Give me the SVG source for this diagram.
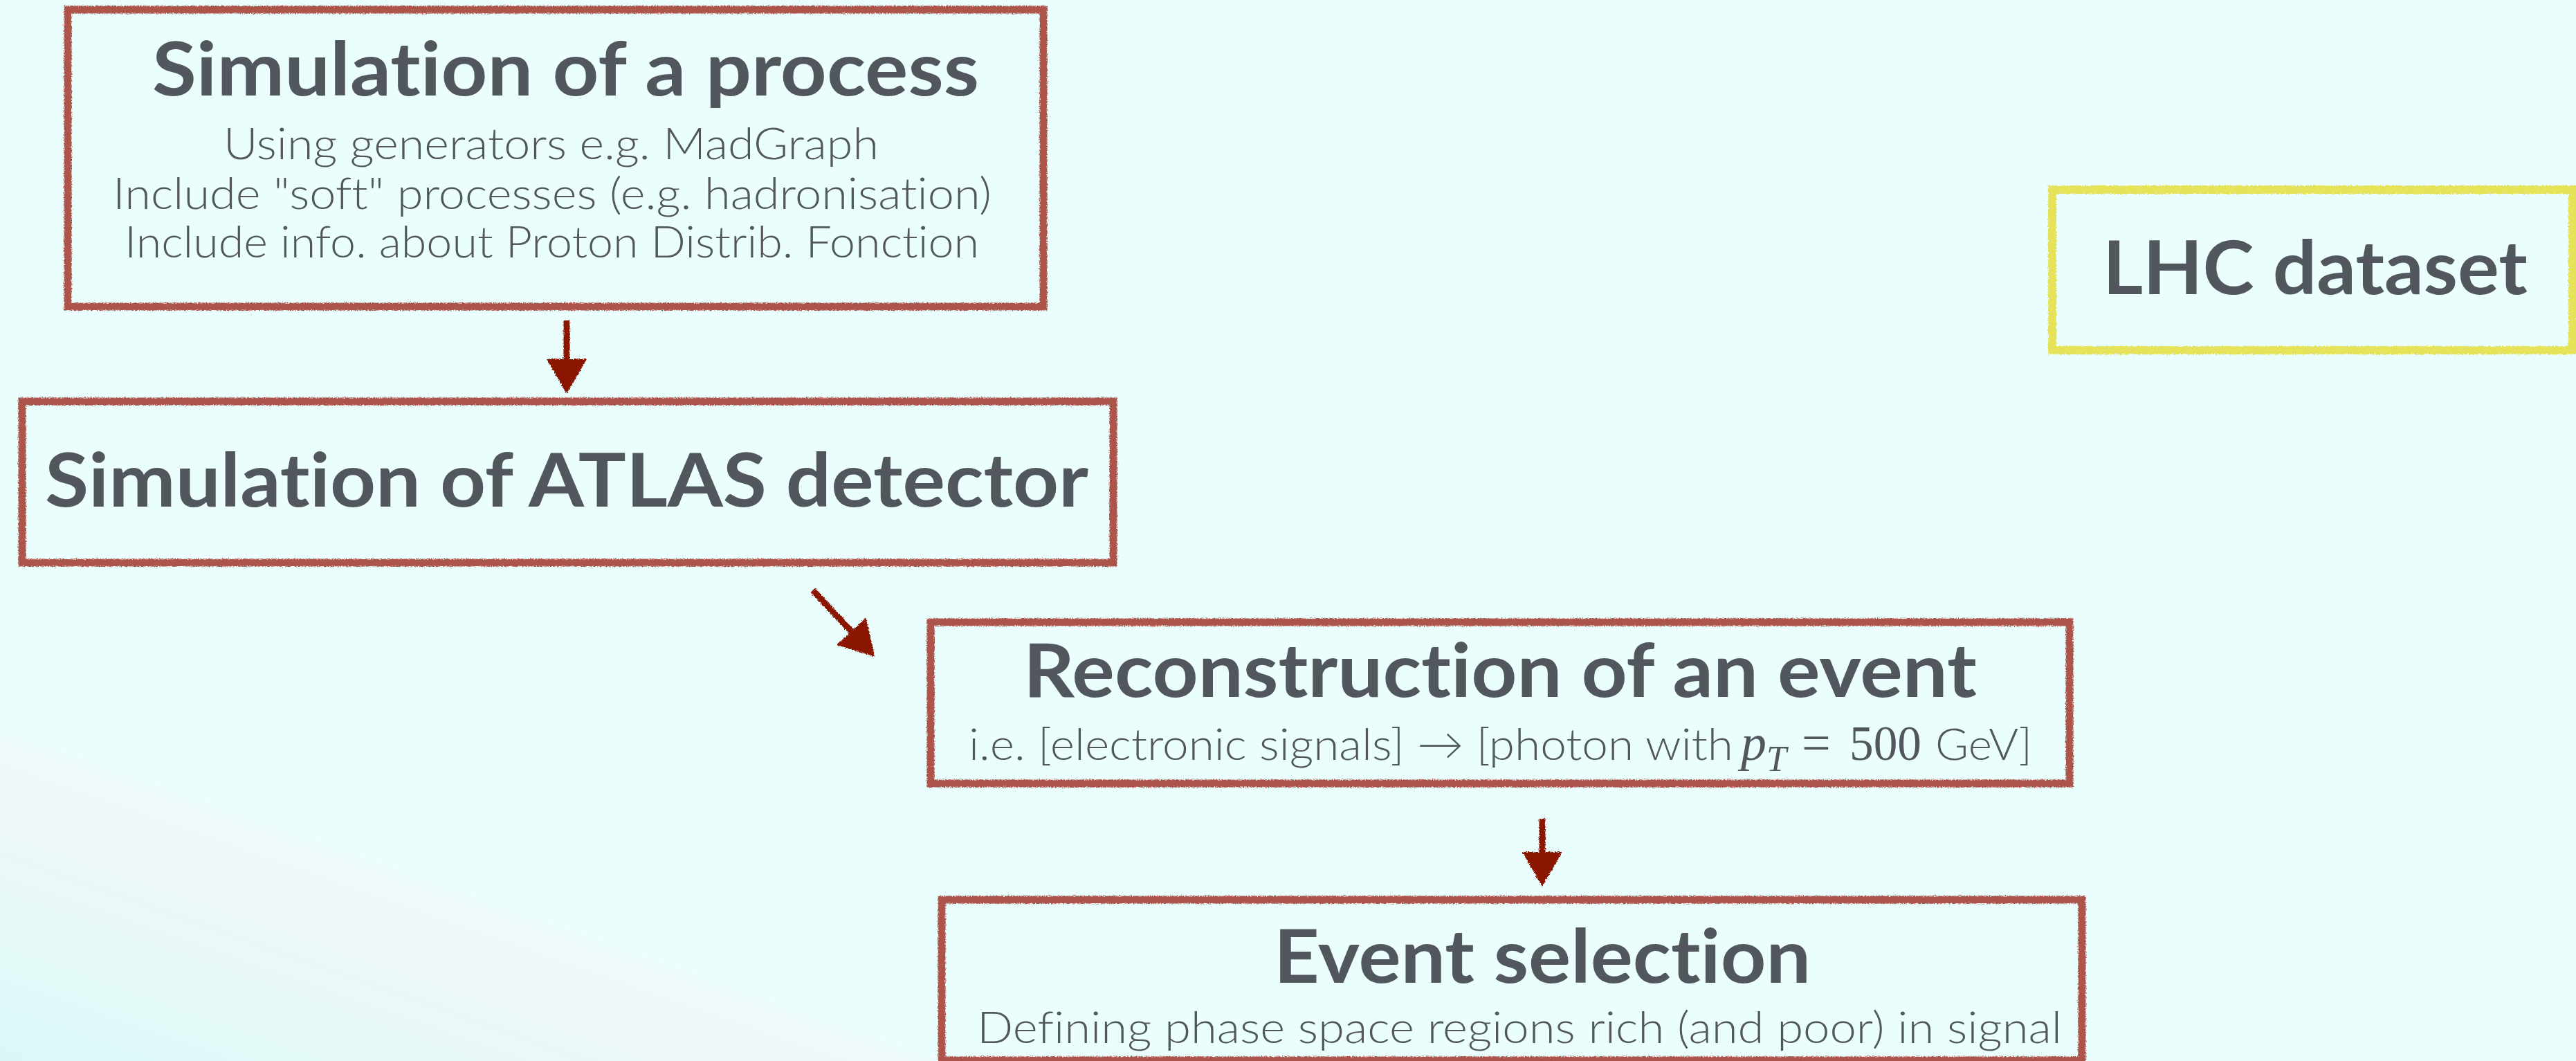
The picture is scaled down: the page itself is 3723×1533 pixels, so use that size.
<svg xmlns="http://www.w3.org/2000/svg" width="3723" height="1533" viewBox="0 0 3723 1533">
<style>
.box{fill:none;stroke:#AD554B;stroke-width:11;filter:url(#rough)}
.boxy{fill:none;stroke:#E6E25A;stroke-width:12;filter:url(#rough)}
.title{font-family:Lato,"Open Sans","Liberation Sans",sans-serif;font-weight:700;font-size:108px;fill:#52575D;font-variant-ligatures:none}
.sub{font-family:Lato,"Open Sans","Liberation Sans",sans-serif;font-weight:300;font-size:64px;fill:#52575D;font-variant-ligatures:none}
.math{font-family:"Liberation Serif","DejaVu Serif",serif;fill:#52575D}
.conn{stroke:#8A1300;stroke-width:9;fill:none;marker-end:url(#head);filter:url(#rough)}
</style>
<defs>
<linearGradient id="bg" gradientUnits="userSpaceOnUse" x1="0" y1="1533" x2="199" y2="967">
<stop offset="0" stop-color="#DAF8F9"/>
<stop offset="0.35" stop-color="#E6F9F7"/>
<stop offset="0.6" stop-color="#EFF6FA"/>
<stop offset="0.72" stop-color="#EFF9FC"/>
<stop offset="0.76" stop-color="#EBFEFE"/>
<stop offset="1" stop-color="#EBFEFE"/>
</linearGradient>
<filter id="rough" filterUnits="userSpaceOnUse" x="0" y="0" width="3723" height="1533">
<feTurbulence type="fractalNoise" baseFrequency="0.6" numOctaves="2" seed="3" result="n"/>
<feDisplacementMap in="SourceGraphic" in2="n" scale="5" xChannelSelector="R" yChannelSelector="G"/>
</filter>
<marker id="head" markerUnits="userSpaceOnUse" viewBox="0 -29 50 58" refX="1" refY="0" markerWidth="50" markerHeight="58" orient="auto">
<path d="M0,-29 L50,0 L0,29 z" fill="#8A1300"/>
</marker>
</defs>
<rect width="3723" height="1533" fill="url(#bg)"/>

<g id="sim-process">
<rect class="box" x="98" y="14" width="1410" height="429"/>
<text class="title" x="220" y="138" textLength="1195" lengthAdjust="spacingAndGlyphs">Simulation of a process</text>
<text class="sub" x="323" y="230" textLength="947" lengthAdjust="spacingAndGlyphs">Using generators e.g. MadGraph</text>
<text class="sub" x="163" y="302" textLength="1270" lengthAdjust="spacingAndGlyphs">Include "soft" processes (e.g. hadronisation)</text>
<text class="sub" x="180" y="372" textLength="1235" lengthAdjust="spacingAndGlyphs">Include info. about Proton Distrib. Fonction</text>
</g>

<g id="sim-atlas">
<rect class="box" x="32" y="580" width="1577" height="233"/>
<text class="title" x="65" y="732" textLength="1508" lengthAdjust="spacingAndGlyphs">Simulation of ATLAS detector</text>
</g>

<g id="reconstruction">
<rect class="box" x="1345" y="899" width="1646" height="233"/>
<text class="title" x="1479" y="1007" textLength="1378" lengthAdjust="spacingAndGlyphs">Reconstruction of an event</text>
<text class="sub" x="1400" y="1098" textLength="1105" lengthAdjust="spacingAndGlyphs">i.e. [electronic signals] → [photon with</text>
<text class="math" x="2516" y="1098" font-size="74" font-style="italic">p</text>
<text class="math" x="2553" y="1114" font-size="52" font-style="italic">T</text>
<text class="math" x="2604" y="1098" font-size="74">=</text>
<text class="math" x="2673" y="1098" font-size="72" textLength="104" lengthAdjust="spacingAndGlyphs">500</text>
<text class="sub" x="2797" y="1098" textLength="140" lengthAdjust="spacingAndGlyphs">GeV]</text>
</g>

<g id="event-selection">
<rect class="box" x="1361" y="1300" width="1648" height="232"/>
<text class="title" x="1841" y="1420" textLength="776" lengthAdjust="spacingAndGlyphs">Event selection</text>
<text class="sub" x="1412" y="1507" textLength="1568" lengthAdjust="spacingAndGlyphs">Defining phase space regions rich (and poor) in signal</text>
</g>

<g id="lhc-dataset">
<rect class="boxy" x="2966" y="274" width="752" height="232"/>
<text class="title" x="3039" y="425" textLength="614" lengthAdjust="spacingAndGlyphs">LHC dataset</text>
</g>

<g id="connectors">
<line class="conn" x1="819" y1="463" x2="819" y2="520"/>
<line class="conn" x1="1175" y1="853" x2="1231" y2="913"/>
<line class="conn" x1="2229" y1="1183" x2="2229" y2="1232"/>
</g>
</svg>
